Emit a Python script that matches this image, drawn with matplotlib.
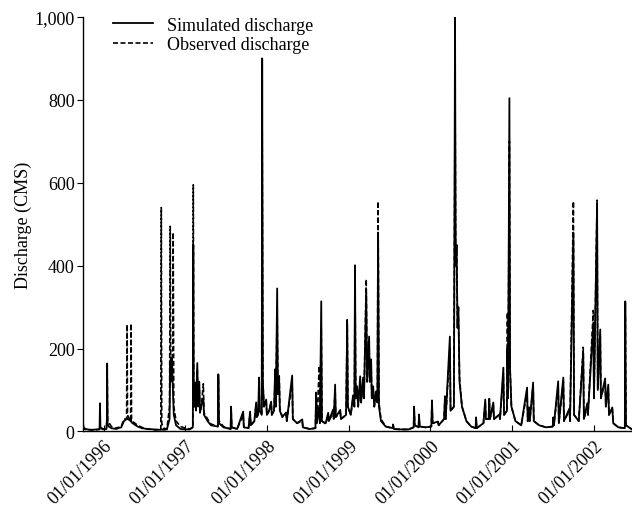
import matplotlib
matplotlib.use("Agg")
import matplotlib.pyplot as plt
import matplotlib.dates as mdates
import numpy as np

plt.rcParams['font.family'] = ['Liberation Serif', 'DejaVu Serif']
plt.rcParams['font.size'] = 13

# ---- data ----
dates = [
    "1995-10-01", "1995-10-05", "1995-10-20", "1995-11-10", "1995-12-01", "1995-12-14", "1995-12-16", "1995-12-18", "1995-12-30",
    "1996-01-14", "1996-01-16", "1996-01-17", "1996-01-19", "1996-01-24", "1996-02-05", "1996-02-25", "1996-03-20", "1996-04-01",
    "1996-04-13", "1996-04-15", "1996-04-17", "1996-04-25", "1996-05-01", "1996-05-03", "1996-05-05", "1996-05-15", "1996-06-01",
    "1996-06-20", "1996-07-15", "1996-08-15", "1996-09-13", "1996-09-15", "1996-09-17", "1996-09-25", "1996-10-10", "1996-10-22",
    "1996-10-25", "1996-10-27", "1996-10-30", "1996-11-02", "1996-11-05", "1996-11-07", "1996-11-10", "1996-11-20", "1996-12-10",
    "1996-12-30",
    "1997-01-20", "1997-02-03", "1997-02-05", "1997-02-07", "1997-02-10", "1997-02-14", "1997-02-17", "1997-02-23", "1997-02-26",
    "1997-03-04", "1997-03-07", "1997-03-12", "1997-03-22", "1997-03-25", "1997-04-10", "1997-04-25", "1997-05-26", "1997-05-28",
    "1997-05-31", "1997-06-20", "1997-07-22", "1997-07-24", "1997-07-27", "1997-08-20", "1997-09-16", "1997-09-19", "1997-10-10",
    "1997-10-17", "1997-10-20", "1997-11-05", "1997-11-13", "1997-11-16", "1997-11-22", "1997-11-26", "1997-11-29", "1997-12-08",
    "1997-12-10", "1997-12-13", "1997-12-18", "1997-12-28", "1997-12-31",
    "1998-01-10", "1998-01-19", "1998-01-22", "1998-02-01", "1998-02-06", "1998-02-09", "1998-02-15", "1998-02-18", "1998-02-24",
    "1998-02-27", "1998-03-10", "1998-03-27", "1998-03-30", "1998-04-23", "1998-04-26", "1998-05-15", "1998-06-07", "1998-06-10",
    "1998-07-10", "1998-08-05", "1998-08-08", "1998-08-12", "1998-08-22", "1998-08-25", "1998-08-31", "1998-09-03", "1998-09-20",
    "1998-10-01", "1998-10-04", "1998-10-23", "1998-10-26", "1998-11-01", "1998-11-04", "1998-11-24", "1998-11-27", "1998-12-20",
    "1998-12-25", "1998-12-28",
    "1999-01-10", "1999-01-20", "1999-01-26", "1999-01-29", "1999-02-01", "1999-02-07", "1999-02-12", "1999-02-21", "1999-02-25",
    "1999-03-06", "1999-03-10", "1999-03-20", "1999-03-24", "1999-03-29", "1999-04-02", "1999-04-05", "1999-04-11", "1999-04-14",
    "1999-04-20", "1999-04-25", "1999-05-03", "1999-05-09", "1999-05-12", "1999-05-16", "1999-05-25", "1999-06-15", "1999-07-16",
    "1999-07-18", "1999-07-22", "1999-08-20", "1999-09-25", "1999-10-18", "1999-10-20", "1999-10-23", "1999-11-09", "1999-11-11",
    "1999-11-14", "1999-12-10",
    "2000-01-05", "2000-01-08", "2000-01-11", "2000-02-04", "2000-02-07", "2000-03-02", "2000-03-06", "2000-03-09", "2000-03-28",
    "2000-03-31", "2000-04-15", "2000-04-20", "2000-04-23", "2000-04-27", "2000-05-01", "2000-05-05", "2000-05-10", "2000-05-21",
    "2000-06-10", "2000-07-01", "2000-07-21", "2000-07-23", "2000-07-26", "2000-08-25", "2000-09-02", "2000-09-05", "2000-09-17",
    "2000-09-20", "2000-09-23", "2000-10-08", "2000-10-11", "2000-11-04", "2000-11-07", "2000-11-22", "2000-11-25", "2000-12-08",
    "2000-12-10", "2000-12-13", "2000-12-19", "2000-12-22", "2000-12-28",
    "2001-01-15", "2001-02-10", "2001-03-08", "2001-03-11", "2001-03-17", "2001-03-20", "2001-04-04", "2001-04-07", "2001-05-01",
    "2001-06-01", "2001-07-01", "2001-07-03", "2001-07-06", "2001-07-25", "2001-07-28", "2001-08-17", "2001-08-20", "2001-09-13",
    "2001-09-16", "2001-10-01", "2001-10-04", "2001-10-25", "2001-11-14", "2001-11-17", "2001-12-02", "2001-12-05", "2001-12-29",
    "2002-01-01", "2002-01-15", "2002-01-18", "2002-01-29", "2002-02-01", "2002-02-20", "2002-02-23", "2002-03-06", "2002-03-09",
    "2002-03-24", "2002-03-28", "2002-04-20", "2002-05-19", "2002-05-21", "2002-05-24", "2002-06-20",
]

simulated = [
    20, 8, 5, 4, 5, 6, 68, 10, 6,
    6, 30, 164, 20, 12, 8, 6, 10, 25,
    30, 32, 30, 28, 25, 28, 22, 18, 12,
    8, 6, 5, 4, 5, 5, 4, 5, 30,
    170, 120, 150, 175, 120, 80, 40, 15, 6,
    5,
    5, 10, 450, 100, 60, 118, 55, 165, 60,
    120, 45, 60, 80, 40, 25, 15, 12, 138,
    20, 10, 6, 60, 10, 6, 48, 10, 8,
    48, 15, 25, 70, 35, 40, 130, 50, 40,
    900, 120, 60, 77, 40,
    50, 72, 40, 50, 150, 60, 345, 90, 120,
    50, 35, 46, 25, 135, 30, 20, 29, 10,
    6, 8, 94, 20, 60, 20, 314, 25, 20,
    45, 25, 53, 30, 113, 35, 52, 30, 40,
    258, 60,
    40, 87, 60, 401, 80, 109, 60, 133, 70,
    130, 80, 335, 120, 181, 229, 120, 174, 80,
    109, 60, 97, 70, 480, 60, 25, 12, 8,
    17, 6, 5, 5, 10, 60, 15, 10, 41,
    12, 10,
    12, 75, 20, 24, 15, 30, 85, 30, 229,
    50, 60, 1000, 400, 450, 250, 300, 120, 60,
    25, 12, 8, 34, 8, 20, 77, 30, 30,
    79, 30, 70, 30, 41, 30, 154, 40, 50,
    200, 80, 804, 150, 60,
    25, 15, 106, 25, 58, 25, 118, 25, 15,
    10, 12, 34, 15, 121, 20, 130, 25, 55,
    25, 480, 40, 25, 190, 30, 68, 40, 260,
    80, 550, 100, 246, 80, 128, 60, 113, 40,
    58, 20, 10, 8, 314, 15, 5,
]

observed = [
    12, 6, 4, 4, 4, 5, 20, 8, 5,
    6, 40, 150, 28, 22, 12, 8, 12, 30,
    30, 258, 40, 30, 25, 260, 30, 22, 15,
    10, 6, 4, 4, 540, 20, 8, 6, 60,
    495, 150, 160, 170, 200, 480, 60, 25, 12,
    8,
    6, 10, 595, 120, 60, 80, 50, 150, 60,
    100, 50, 55, 115, 45, 30, 18, 12, 130,
    25, 12, 6, 50, 10, 6, 40, 10, 8,
    45, 15, 25, 65, 35, 40, 100, 50, 45,
    725, 120, 60, 70, 40,
    50, 70, 40, 50, 140, 60, 300, 100, 138,
    55, 35, 42, 25, 120, 30, 20, 25, 10,
    6, 8, 80, 25, 158, 25, 250, 25, 18,
    40, 25, 45, 30, 100, 35, 45, 30, 40,
    273, 60,
    40, 80, 60, 350, 80, 100, 60, 120, 70,
    115, 80, 367, 120, 170, 200, 120, 160, 80,
    100, 60, 90, 70, 555, 70, 30, 12, 8,
    15, 6, 5, 5, 10, 55, 15, 10, 38,
    12, 10,
    12, 70, 20, 22, 15, 30, 80, 30, 200,
    50, 60, 828, 420, 450, 260, 280, 130, 60,
    25, 12, 8, 30, 8, 20, 70, 30, 30,
    72, 30, 65, 30, 40, 30, 140, 40, 50,
    287, 100, 700, 150, 60,
    25, 15, 95, 25, 55, 25, 110, 25, 15,
    10, 12, 30, 15, 110, 20, 120, 25, 50,
    25, 555, 40, 25, 203, 30, 60, 40, 292,
    80, 558, 100, 230, 80, 120, 60, 105, 40,
    55, 20, 10, 8, 280, 15, 5,
]

year_ticks = ["1996-01-01", "1997-01-01", "1998-01-01", "1999-01-01",
              "2000-01-01", "2001-01-01", "2002-01-01"]
y_ticks = [0, 200, 400, 600, 800, 1000]

x = np.array(dates, dtype="datetime64[D]")

fig = plt.figure(figsize=(6.32, 5.10), dpi=100)
ax = fig.add_axes([0.1313, 0.152, 0.8687, 0.8128])

ax.plot(x, observed, color="black", lw=1.2, ls=(0, (3.0, 1.5)),
        label="Observed discharge", zorder=2)
ax.plot(x, simulated, color="black", lw=1.3, ls="-",
        label="Simulated discharge", zorder=3)

ax.set_xlim(np.datetime64("1995-10-01"), np.datetime64("2002-06-20"))
ax.set_ylim(0, 1000)

ax.set_xticks(np.array(year_ticks, dtype="datetime64[D]"))
ax.xaxis.set_major_formatter(mdates.DateFormatter("%d/%m/%Y"))
ax.tick_params(axis="x", direction="in", length=4, width=0.8, pad=4)
for lab in ax.get_xticklabels():
    lab.set_rotation(45)
    lab.set_ha("right")
    lab.set_rotation_mode("anchor")

ax.set_yticks(y_ticks)
ax.set_yticklabels([f"{v:,}" for v in y_ticks])
ax.tick_params(axis="y", direction="out", length=4, width=0.8, pad=2)
ax.set_ylabel("Discharge (CMS)", labelpad=2)

for s in ["top", "right"]:
    ax.spines[s].set_visible(False)
for s in ["left", "bottom"]:
    ax.spines[s].set_linewidth(1.0)

h, l = ax.get_legend_handles_labels()
ax.legend(h[::-1], l[::-1], loc="upper left", bbox_to_anchor=(0.025, 1.04),
          frameon=False, handlelength=2.2, handletextpad=0.8,
          labelspacing=0.15, fontsize=13)

fig.savefig("out.png", dpi=100)
